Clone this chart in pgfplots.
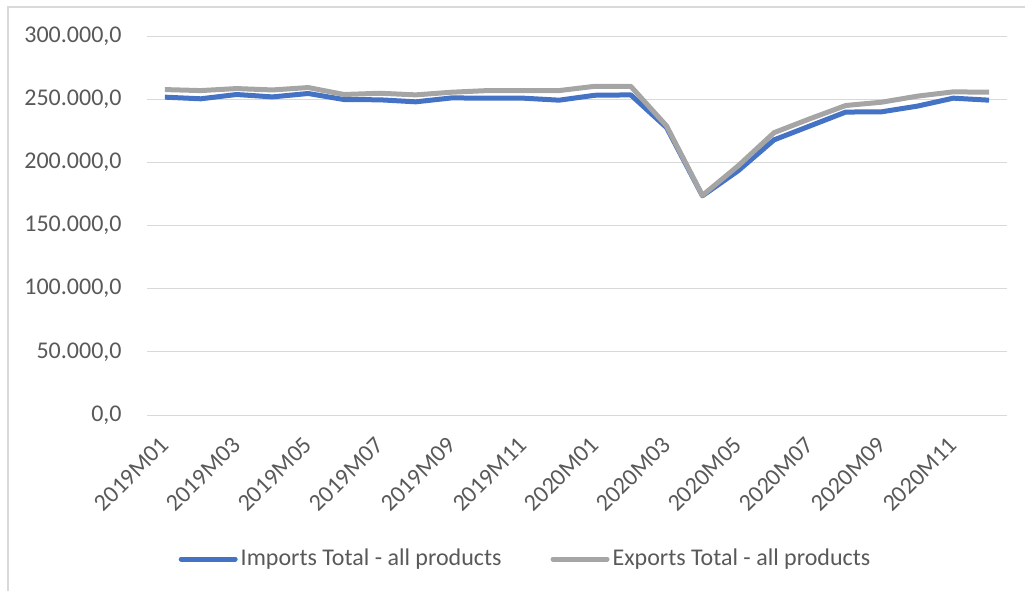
\documentclass[border=0pt]{standalone}
\usepackage{fontspec}
\setmainfont{Carlito}
\usepackage{pgfplots}
\pgfplotsset{compat=1.18}
\definecolor{impc}{HTML}{4472C4}
\definecolor{expc}{HTML}{A5A5A5}
\definecolor{gridc}{HTML}{D9D9D9}
\definecolor{txtc}{HTML}{595959}
\begin{document}
\fontsize{12}{14}\selectfont
\begin{tikzpicture}
\path[use as bounding box] (0,0) rectangle (512.5pt,295.5pt);
\draw[gridc, line width=0.75pt] (4pt,0) -- (4pt,292pt) -- (512.5pt,292pt);
\begin{axis}[
  at={(73.5pt,88pt)}, anchor=south west,
  scale only axis, width=430pt, height=189.5pt,
  xmin=-0.5, xmax=23.5, ymin=0, ymax=300000,
  axis x line*=bottom, axis y line*=left,
  x axis line style={gridc, line width=0.5pt, -},
  y axis line style={draw=none},
  ytick={0,50000,...,300000},
  ymajorgrids, grid style={gridc, line width=0.5pt},
  xtick={0,2,...,22},
  xticklabels={2019M01,2019M03,2019M05,2019M07,2019M09,2019M11,2020M01,2020M03,2020M05,2020M07,2020M09,2020M11},
  major tick length=0pt,
  tick style={draw=none},
  tick label style={font=\fontsize{12}{14}\selectfont, text=txtc},
  yticklabel style={anchor=east, inner sep=0pt, xshift=-12.5pt},
  xticklabel style={rotate=45, anchor=east, inner sep=0pt},
  xticklabel shift=13pt,
  scaled y ticks=false,
  /pgf/number format/.cd, fixed, fixed zerofill, precision=1, 1000 sep={.}, dec sep={,}, assume math mode=true,
  /pgfplots/.cd,
  legend columns=2,
  legend style={at={(0.4407,-0.38)}, anchor=center, draw=none, fill=none,
    font=\fontsize{12}{14}\selectfont, text=txtc,
    nodes={inner sep=1.5pt},
    /tikz/every even column/.append style={column sep=23pt}},
  legend image code/.code={\draw[#1, line cap=round] (0pt,0pt) -- (27pt,0pt);},
  every axis plot/.append style={line width=2.5pt, line join=round, mark=none},
  clip=false,
]
\addplot[impc] coordinates {
(0,251600) (1,250300) (2,253700) (3,251800) (4,254500) (5,249700) (6,249500) (7,247900)
(8,251000) (9,250800) (10,250800) (11,249200) (12,253100) (13,253400) (14,227500) (15,173500)
(16,193400) (17,217800) (18,228800) (19,239800) (20,240000) (21,244500) (22,250800) (23,249200)};
\addlegendentry{Imports Total - all products}
\addplot[expc] coordinates {
(0,257600) (1,256800) (2,258400) (3,257300) (4,259200) (5,253700) (6,254700) (7,253400)
(8,255500) (9,256800) (10,256800) (11,256800) (12,260200) (13,260200) (14,228800) (15,173800)
(16,197300) (17,223500) (18,234500) (19,245000) (20,247600) (21,252400) (22,255800) (23,255500)};
\addlegendentry{Exports Total - all products}
\end{axis}
\end{tikzpicture}
\end{document}
